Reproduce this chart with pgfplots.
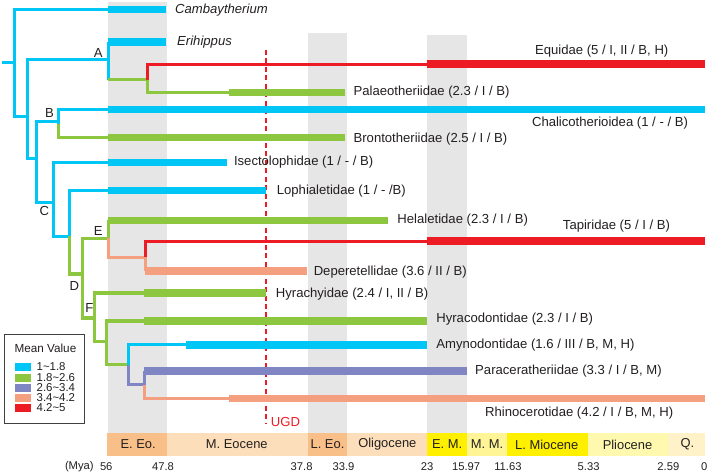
\documentclass[border=0pt]{standalone}
\usepackage{pgfplots}
\pgfplotsset{compat=1.18}
\usepackage{fontspec}
\setmainfont{Liberation Sans}
\definecolor{cy}{RGB}{0,198,245}
\definecolor{gr}{RGB}{141,198,63}
\definecolor{pu}{RGB}{128,134,196}
\definecolor{sa}{RGB}{244,160,128}
\definecolor{rd}{RGB}{237,28,36}
\definecolor{band}{RGB}{230,230,230}
\definecolor{eoA}{RGB}{248,192,136}
\definecolor{eoB}{RGB}{252,222,186}
\definecolor{yA}{RGB}{255,240,0}
\definecolor{yB}{RGB}{255,245,150}
\definecolor{yC}{RGB}{255,249,176}
\definecolor{yD}{RGB}{255,242,200}
\definecolor{txt}{RGB}{35,31,32}

\tikzset{
  treebr/.style={line width=3.2bp, line join=miter, line cap=butt},
  treefo/.style={line width=7.5bp, line cap=butt},
  lab/.style={anchor=west, inner sep=0pt, text=txt, font=\fontsize{13.2}{15}\selectfont},
}

% rectangle in axis units: x1,y1,x2,y2,colour
\newcommand{\rect}[5]{\addplot[fill=#5,draw=none] coordinates {(#1,#2)(#3,#2)(#3,#4)(#1,#4)} -- cycle;}

\begin{document}
\begin{tikzpicture}
\begin{axis}[
  width=709bp, height=477bp, scale only axis,
  xmin=0, xmax=709, ymin=0, ymax=477, y dir=reverse,
  axis line style={draw=none}, ticks=none,
  clip=false,
]
\addplot[draw=none] coordinates {(0,0)(709,477)};

% grey time bands
\rect{107}{2}{166}{434}{band}
\rect{307}{33}{347}{434}{band}
\rect{427}{35}{467}{434}{band}

% epoch bar
\rect{106}{434}{166}{458}{eoA}
\rect{166}{434}{307}{458}{eoB}
\rect{307}{434}{347}{458}{eoA}
\rect{347}{434}{427}{458}{eoB}
\rect{427}{434}{467}{458}{yA}
\rect{467}{434}{507}{458}{yB}
\rect{507}{434}{588}{458}{yA}
\rect{588}{434}{669}{458}{yC}
\rect{669}{434}{706}{458}{yD}

% UGD line
\addplot[rd, line width=2bp, dash pattern=on 5bp off 3.5bp] coordinates {(265,50)(265,425)};

% ---- tree: thin branches ----
\addplot[cy,treebr] coordinates {(0,63)(13,63)};
\addplot[cy,treebr] coordinates {(107,9.5)(13,9.5)(13,117)(26,117)};
\addplot[cy,treebr] coordinates {(107,60)(26,60)(26,159)(35,159)};
\addplot[cy,treebr] coordinates {(107,42)(107,80)};
\addplot[gr,treebr] coordinates {(107,80)(146,80)(146,93)(228,93)};
\addplot[rd,treebr] coordinates {(146,80)(146,65)(427,65)};
\addplot[cy,treebr] coordinates {(57,122)(35,122)(35,203)(52,203)};
\addplot[cy,treebr] coordinates {(107,110)(57,110)(57,124)};
\addplot[gr,treebr] coordinates {(57,124)(57,138)(107,138)};
\addplot[cy,treebr] coordinates {(107,163)(52,163)(52,237)(68,237)};
\addplot[cy,treebr] coordinates {(107,191)(68,191)(68,237)};
\addplot[gr,treebr] coordinates {(68,237)(68,275)(81,275)};
\addplot[gr,treebr] coordinates {(107,239)(81,239)(81,319)(93,319)};
\addplot[gr,treebr] coordinates {(107,221)(107,239)};
\addplot[sa,treebr] coordinates {(107,239)(107,258)(144,258)(144,272)};
\addplot[rd,treebr] coordinates {(144,258)(144,242)(427,242)};
\addplot[gr,treebr] coordinates {(143,294)(93,294)(93,343)(105,343)};
\addplot[gr,treebr] coordinates {(143,322)(105,322)(105,366)(127,366)};
\addplot[cy,treebr] coordinates {(185,346)(127,346)(127,366)};
\addplot[pu,treebr] coordinates {(127,366)(127,386)(143,386)(143,372)};
\addplot[sa,treebr] coordinates {(143,386)(143,400)(228,400)};

% ---- tree: thick ranges ----
\addplot[cy,treefo] coordinates {(107,9.5)(165,9.5)};
\addplot[cy,treefo] coordinates {(107,42)(165,42)};
\addplot[rd,treefo] coordinates {(427,64)(706,64)};
\addplot[gr,treefo] coordinates {(228,93)(345,93)};
\addplot[cy,treefo] coordinates {(107,110)(706,110)};
\addplot[gr,treefo] coordinates {(107,138)(345,138)};
\addplot[cy,treefo] coordinates {(107,163)(226,163)};
\addplot[cy,treefo] coordinates {(107,191)(265,191)};
\addplot[gr,treefo] coordinates {(107,221)(388,221)};
\addplot[rd,treefo] coordinates {(427,242)(706,242)};
\addplot[sa,treefo] coordinates {(144,272)(306,272)};
\addplot[gr,treefo] coordinates {(143,294)(265,294)};
\addplot[gr,treefo] coordinates {(143,322)(427,322)};
\addplot[cy,treefo] coordinates {(185,346)(427,346)};
\addplot[pu,treefo] coordinates {(143,372)(467,372)};
\addplot[sa,treefo] coordinates {(228,400)(706,400)};

% taxon labels
\node[lab] at (axis cs:174,10) {\itshape Cambaytherium};
\node[lab] at (axis cs:176,42) {\itshape Erihippus};
\node[lab] at (axis cs:535,51) {Equidae (5 / I, II / B, H)};
\node[lab] at (axis cs:353,92) {Palaeotheriidae (2.3 / I / B)};
\node[lab] at (axis cs:532,124) {Chalicotherioidea (1 / - / B)};
\node[lab] at (axis cs:353,140) {Brontotheriidae (2.5 / I / B)};
\node[lab] at (axis cs:233,163) {Isectolophidae (1 / - / B)};
\node[lab] at (axis cs:276,192) {Lophialetidae (1 / - /B)};
\node[lab] at (axis cs:397,221) {Helaletidae (2.3 / I / B)};
\node[lab] at (axis cs:563,227) {Tapiridae (5 / I / B)};
\node[lab] at (axis cs:313,273) {Deperetellidae (3.6 / II / B)};
\node[lab] at (axis cs:275,295) {Hyrachyidae (2.4 / I, II / B)};
\node[lab] at (axis cs:436,320) {Hyracodontidae (2.3 / I / B)};
\node[lab] at (axis cs:436,346) {Amynodontidae (1.6 / III / B, M, H)};
\node[lab] at (axis cs:475,372) {Paraceratheriidae (3.3 / I / B, M)};
\node[lab] at (axis cs:485,414) {Rhinocerotidae (4.2 / I / B, M, H)};

% node letters
\node[lab,anchor=center] at (axis cs:97,53) {A};
\node[lab,anchor=center] at (axis cs:48,113) {B};
\node[lab,anchor=center] at (axis cs:43,212) {C};
\node[lab,anchor=center] at (axis cs:73,287) {D};
\node[lab,anchor=center] at (axis cs:97,232) {E};
\node[lab,anchor=center] at (axis cs:88,309) {F};

\node[lab,text=rd] at (axis cs:270,423) {UGD};

% epoch names
\begin{scope}[every node/.style={inner sep=0pt, text=txt, font=\fontsize{13}{14}\selectfont}]
\node at (axis cs:137,446) {E. Eo.};
\node at (axis cs:236,446) {M. Eocene};
\node at (axis cs:327,446) {L. Eo.};
\node at (axis cs:387,446) {Oligocene};
\node at (axis cs:447,446) {E. M.};
\node at (axis cs:487,446) {M. M.};
\node at (axis cs:547,446) {L. Miocene};
\node at (axis cs:628,446) {Pliocene};
\node at (axis cs:688,446) {Q.};
\end{scope}

% time ticks
\begin{scope}[every node/.style={inner sep=0pt, text=txt, font=\fontsize{11.3}{12}\selectfont}]
\node at (axis cs:78,468) {(Mya)};
\node at (axis cs:105,468) {56};
\node at (axis cs:162,468) {47.8};
\node at (axis cs:301,468) {37.8};
\node at (axis cs:343,468) {33.9};
\node at (axis cs:427,468) {23};
\node at (axis cs:466,468) {15.97};
\node at (axis cs:508,468) {11.63};
\node at (axis cs:589,468) {5.33};
\node at (axis cs:669,468) {2.59};
\node at (axis cs:705,468) {0};
\end{scope}

% legend
\addplot[fill=white, draw=black!75, line width=1.2bp] coordinates {(3,336)(83,336)(83,425)(3,425)} -- cycle;
\rect{13}{364}{30}{372}{cy}
\rect{13}{375}{30}{383}{gr}
\rect{13}{385}{30}{393}{pu}
\rect{13}{395}{30}{403}{sa}
\rect{13}{405}{30}{413}{rd}
\node[inner sep=0pt, text=txt, font=\fontsize{11.8}{12}\selectfont] at (axis cs:44,349) {Mean Value};
\begin{scope}[every node/.style={inner sep=0pt, anchor=west, text=txt, text height=8bp, text depth=0pt, font=\fontsize{11.5}{12}\selectfont}]
\node at (axis cs:35,368) {1\textasciitilde1.8};
\node at (axis cs:35,378.5) {1.8\textasciitilde2.6};
\node at (axis cs:35,388.5) {2.6\textasciitilde3.4};
\node at (axis cs:35,398.5) {3.4\textasciitilde4.2};
\node at (axis cs:35,408.5) {4.2\textasciitilde5};
\end{scope}
\end{axis}
\end{tikzpicture}
\end{document}
